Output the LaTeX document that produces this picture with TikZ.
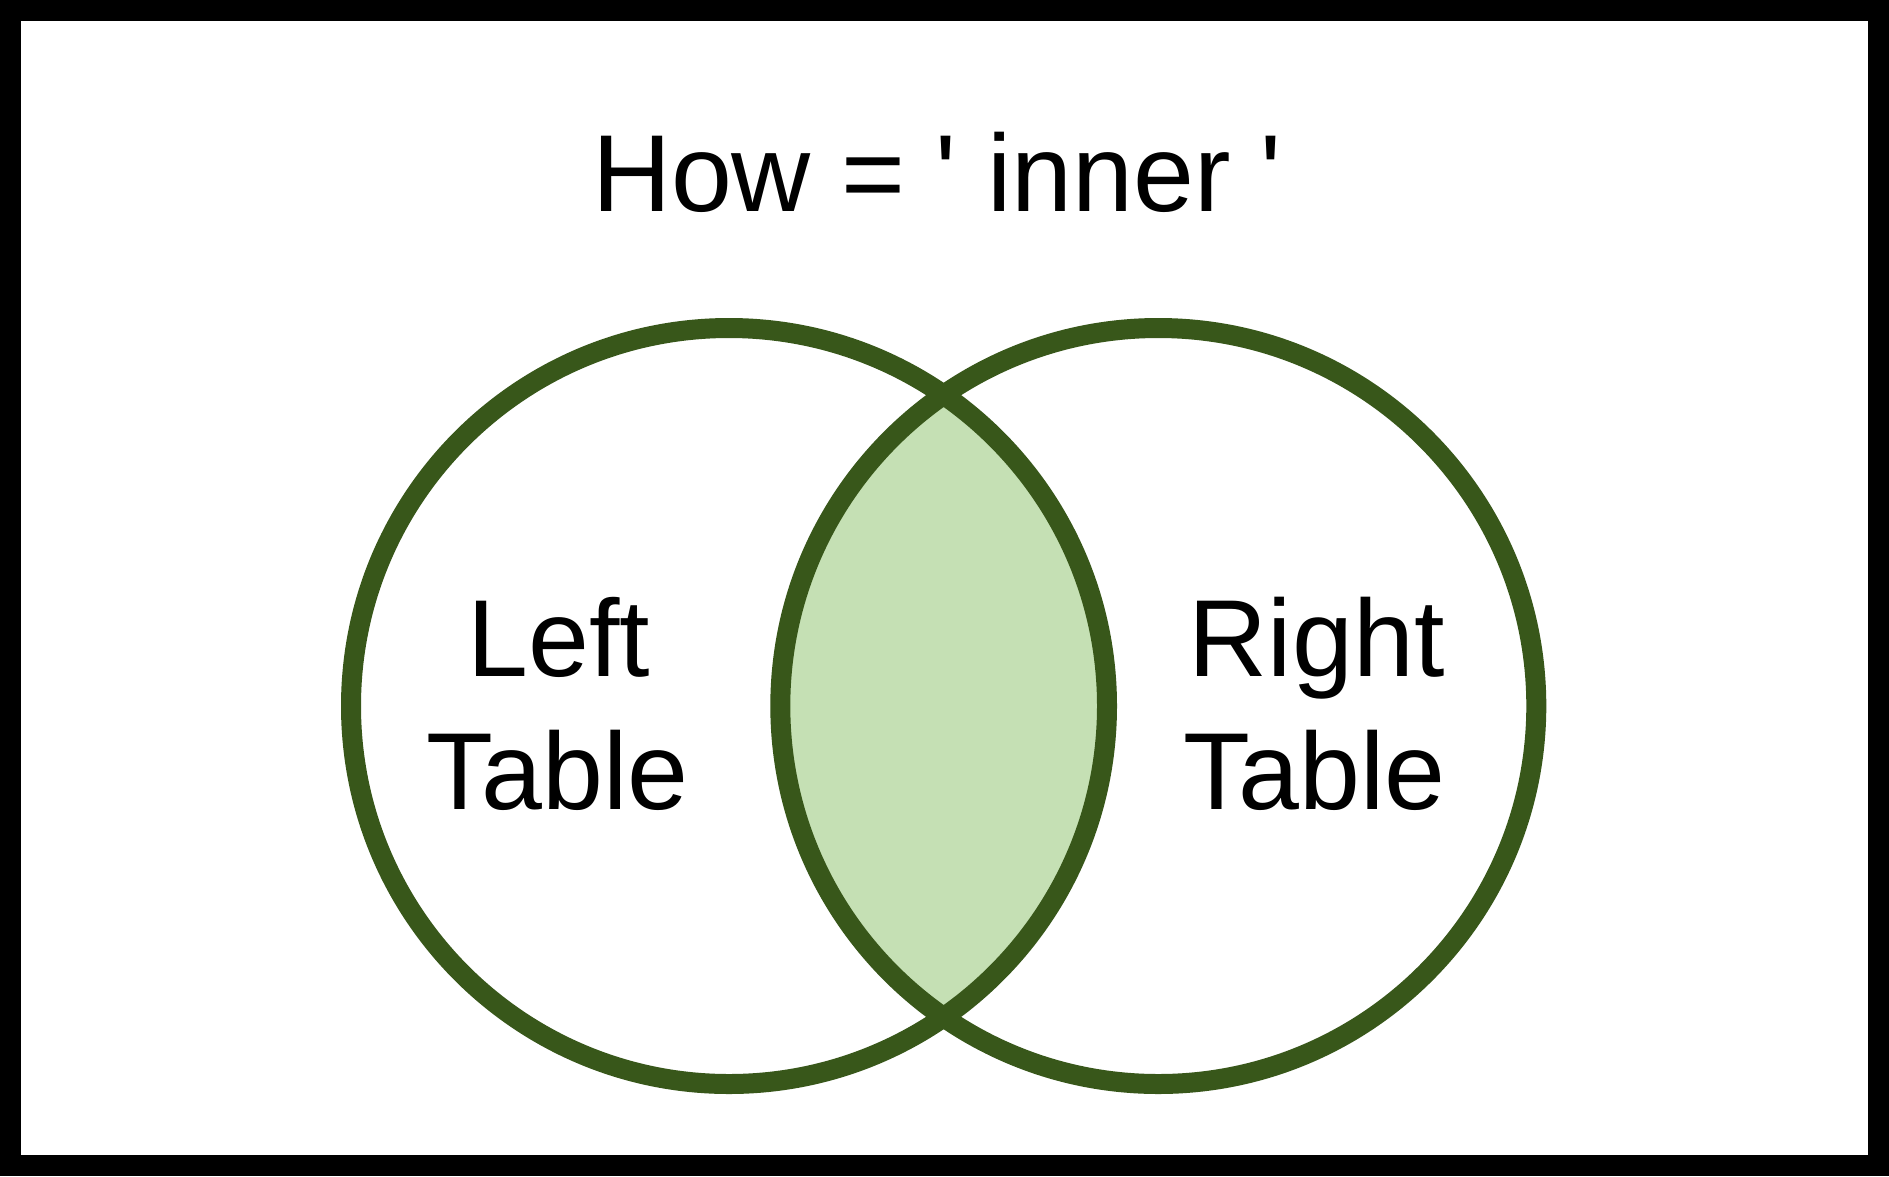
\documentclass[tikz,border=0pt]{standalone}
\usepackage{fontspec}
\setmainfont{Liberation Sans}[Ligatures={TeXOff,CommonOff}]
\definecolor{venngreen}{HTML}{38571A}
\definecolor{lensfill}{HTML}{C5E0B4}
\tikzset{
  bigtext/.style={font=\fontsize{109.5}{132}\selectfont, inner sep=0pt, anchor=base},
  vennline/.style={draw=venngreen, line width=20pt},
}
\begin{document}
\begin{tikzpicture}[x=1pt,y=-1pt]
\useasboundingbox (0,0) rectangle (1889,1176);
\fill[white] (0,0) rectangle (1889,1176);
\draw[line width=21pt, black] (10.5,10.5) rectangle (1878.5,1165.5);
\coordinate (cl) at (729,706);
\coordinate (cr) at (1158.3,706);
\begin{scope}
  \clip (cl) circle[radius=378pt];
  \fill[lensfill] (cr) circle[radius=378pt];
\end{scope}
\draw[vennline] (cl) circle[radius=378pt];
\draw[vennline] (cr) circle[radius=378pt];
\node[bigtext] (title) at (937,211.7) {How = ' inner '};
\node[bigtext] (left1) at (559,676.7) {Left};
\node[bigtext] (left2) at (557.5,809.3) {Table};
\node[bigtext] (right1) at (1316.7,676.7) {Right};
\node[bigtext] (right2) at (1314.5,809.3) {Table};
\end{tikzpicture}
\end{document}
